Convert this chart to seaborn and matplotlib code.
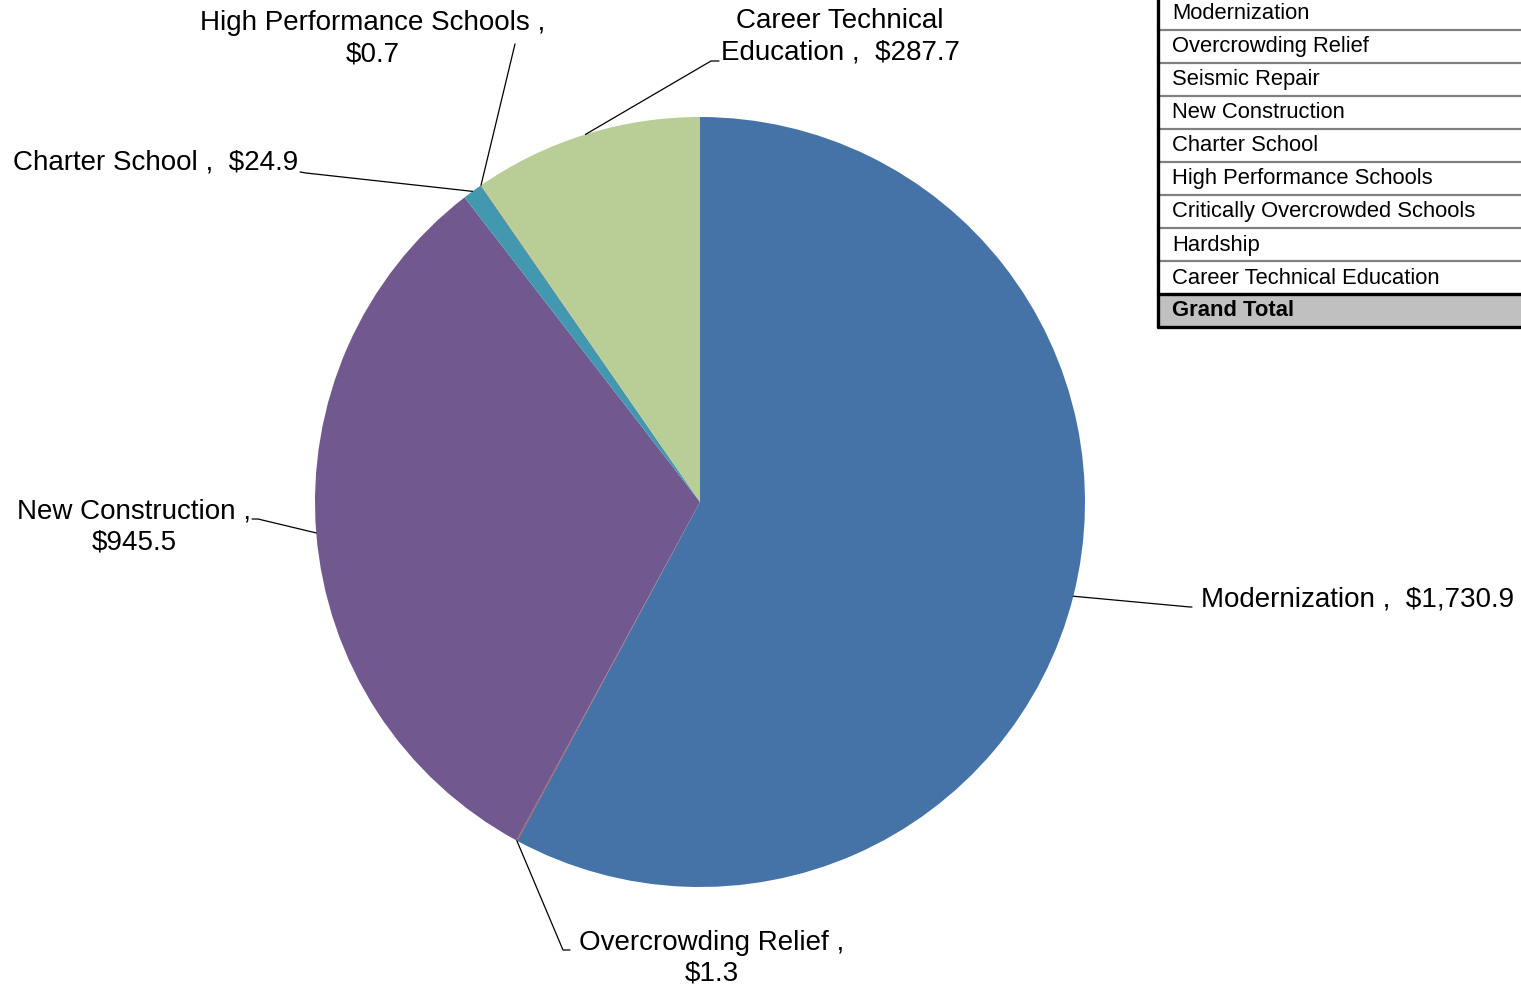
import numpy as np
import matplotlib
matplotlib.use("Agg")
import matplotlib.pyplot as plt
from matplotlib.patches import Rectangle
import seaborn as sns

# ---- data (millions of dollars) ----
categorias = ['Modernization', 'Overcrowding Relief', 'Seismic Repair', 'New Construction',
              'Charter School', 'High Performance Schools', 'Critically Overcrowded Schools',
              'Hardship', 'Career Technical Education']
valores = [1730.9, 1.3, 0.0, 945.5, 24.9, 0.7, 0.0, 0.0, 287.7]
cores = ['#4572A7', '#AA4643', '#89A54E', '#71588F', '#4198AF',
         '#DB843D', '#93A9CF', '#D19392', '#B9CD96']

# label text for the slices shown on the chart
rotulos = {
    'Modernization': 'Modernization ,  {}',
    'Overcrowding Relief': 'Overcrowding Relief ,\n{}',
    'New Construction': 'New Construction ,\n{}',
    'Charter School': 'Charter School ,  {}',
    'High Performance Schools': 'High Performance Schools ,\n{}',
    'Career Technical Education': 'Career Technical\nEducation ,  {}',
}

# ---- layout (pixels, y measured from top) ----
W, H = 1521, 988
centro_px = (700, 502)
raio = 385
# text position, alignment, elbow of leader line, end of leader line
posicoes = {
    'Modernization': ((1201, 599), 'left', (1190, 607), (1192, 607)),
    'Overcrowding Relief': ((712, 958), 'center', (563, 950), (570, 950)),
    'New Construction': ((134, 527), 'center', (258, 519), (252, 519)),
    'Charter School': ((298, 163), 'right', (306, 173), (300, 172)),
    'High Performance Schools': ((373, 39), 'center', (515, 44), (515, 44)),
    'Career Technical Education': ((840, 37), 'center', (711, 61), (719, 61)),
}


def px(x, y):
    return x, H - y


sns.set_theme(style='white')
plt.rcParams['font.family'] = ['Liberation Sans', 'DejaVu Sans']

fig = plt.figure(figsize=(W / 100, H / 100), dpi=100)
ax = fig.add_axes([0, 0, 1, 1])

centro = px(*centro_px)
wedges, _ = ax.pie(valores, colors=cores, startangle=90, counterclock=False,
                   center=centro, radius=raio, wedgeprops=dict(linewidth=0))

# ---- data labels with leader lines ----
for w, cat, v in zip(wedges, categorias, valores):
    if cat not in rotulos:
        continue
    texto = rotulos[cat].format(f'${v:,.1f}')
    (tx, ty), ha, cotovelo, fim = posicoes[cat]
    ang = np.deg2rad((w.theta1 + w.theta2) / 2)
    ancora = (centro[0] + raio * np.cos(ang), centro[1] + raio * np.sin(ang))
    c = px(*cotovelo)
    f = px(*fim)
    ax.plot([ancora[0], c[0], f[0]], [ancora[1], c[1], f[1]], color='black', lw=0.9)
    ax.text(*px(tx, ty), texto, ha=ha, va='center', fontsize=20,
            multialignment='center', linespacing=1.25, color='black')

# ---- summary table in the top right corner ----
x0 = 1158
topo = -3
alt = 33
linhas_tabela = categorias + ['Grand Total']
for i, nome in enumerate(linhas_tabela):
    yc = topo + alt * i + alt / 2 + 0.5
    total = nome == 'Grand Total'
    if total:
        ax.add_patch(Rectangle(px(x0, topo + alt * (i + 1)), W - x0, alt,
                               facecolor='#C0C0C0', edgecolor='none', zorder=1))
    ax.text(*px(1172, yc), nome, ha='left', va='center', fontsize=15.8,
            fontweight='bold' if total else 'normal', color='black', zorder=3)
    yb = topo + alt * (i + 1)
    if i < len(linhas_tabela) - 2:
        ax.plot([x0, W], [H - yb, H - yb], color='#808080', lw=1.6, zorder=2)
    else:
        ax.plot([x0, W], [H - yb, H - yb], color='black', lw=2.4, zorder=2)
ax.plot([x0, x0], [H - topo, H - (topo + alt * len(linhas_tabela))],
        color='black', lw=2.4, zorder=2)

ax.set_xlim(0, W)
ax.set_ylim(0, H)
ax.set_aspect('equal')
ax.set_axis_off()

fig.savefig('out.png', dpi=100)
